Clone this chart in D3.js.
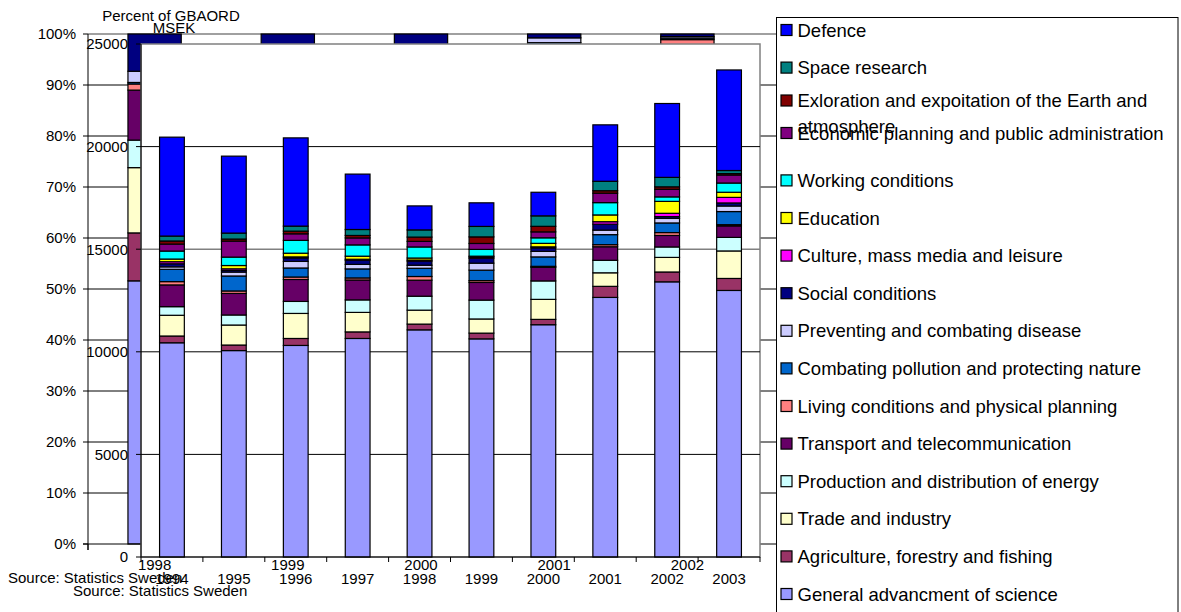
<!DOCTYPE html>
<html lang="en">
<head>
<meta charset="UTF-8">
<title>GBAORD by socio-economic objective</title>
<script src="https://d3js.org/d3.v7.min.js"></script>
<style>
  body { margin: 0; background: #fff; }
  svg { display: block; font-family: Arial, "Liberation Sans", sans-serif; }
</style>
</head>
<body>
<svg id="chart" width="1181" height="612"></svg>
<script>
// ---- front chart: MSEK per year, stacked bottom to top ----
const years = ["1994", "1995", "1996", "1997", "1998", "1999", "2000", "2001", "2002", "2003"];
const seriesNames = [
  "General advancment of science",
  "Agriculture, forestry and fishing",
  "Trade and industry",
  "Production and distribution of energy",
  "Transport and telecommunication",
  "Living conditions and physical planning",
  "Combating pollution and protecting nature",
  "Preventing and combating disease",
  "Social conditions",
  "Culture, mass media and leisure",
  "Education",
  "Working conditions",
  "Economic planning and public administration",
  "Exloration and expoitation of the Earth and atmosphere",
  "Space research",
  "Defence"
];
const seriesColors = [
  "#9999ff", "#993366", "#ffffcc", "#ccffff", "#660066", "#ff8080", "#0066cc", "#ccccff",
  "#000080", "#ff00ff", "#ffff00", "#00ffff", "#800080", "#800000", "#008080", "#0000ff"
];
const generalScience = [10440, 10060, 10310, 10650, 11070, 10630, 11320, 12650, 13410, 12990];
const agriculture    = [330, 270, 340, 320, 280, 280, 260, 540, 480, 585];
const tradeIndustry  = [1010, 975, 1220, 950, 680, 690, 975, 660, 710, 1340];
const energy         = [420, 490, 585, 610, 680, 920, 900, 610, 510, 660];
const transport      = [1060, 1050, 1070, 970, 780, 860, 660, 660, 560, 560];
const livingCond     = [160, 120, 120, 100, 180, 90, 50, 100, 140, 60];
const pollution      = [600, 730, 440, 440, 400, 510, 460, 490, 470, 640];
const disease        = [120, 190, 320, 220, 150, 340, 270, 220, 220, 270];
const socialCond     = [150, 80, 170, 200, 200, 240, 170, 290, 90, 150];
const culture        = [100, 80, 50, 50, 50, 60, 50, 120, 160, 270];
const education      = [130, 160, 180, 150, 100, 40, 170, 330, 580, 250];
const workingCond    = [390, 410, 625, 550, 540, 330, 270, 600, 220, 450];
const economicPlan   = [340, 780, 320, 340, 270, 290, 290, 460, 370, 390];
const exploration    = [150, 100, 130, 120, 210, 320, 270, 120, 120, 70];
const spaceResearch  = [240, 290, 245, 290, 350, 510, 510, 460, 460, 150];
const defence        = [4820, 3750, 4300, 2700, 1170, 1150, 1150, 2750, 3600, 4900];
const msekTicks = [0, 5000, 10000, 15000, 20000, 25000];

// ---- back chart: percent of GBAORD (only partly visible) ----
const pctYears = ["1998", "1999", "2000", "2001", "2002"];
const pctGeneral    = [51.6, 52.5, 53.0, 55.0, 57.0];
const pctAgri       = [9.4, 9.0, 9.2, 10.0, 10.0];
const pctTrade      = [12.8, 12.5, 12.0, 13.5, 13.0];
const pctEnergy     = [5.4, 5.8, 6.0, 6.5, 6.0];
const pctTransport  = [9.8, 9.5, 9.6, 10.5, 10.5];
const pctLiving     = [1.2, 1.3, 1.4, 1.5, 2.4];
const pctPollution  = [0.3, 0.8, 1.0, 1.3, 0.3];
const pctDisease    = [2.2, 2.1, 2.3, 0.95, 0.3];
const pctSocial     = [7.3, 6.5, 5.5, 0.75, 0.5];
const pctTicks = [0, 10, 20, 30, 40, 50, 60, 70, 80, 90, 100];

const frontSeries = [generalScience, agriculture, tradeIndustry, energy, transport, livingCond,
  pollution, disease, socialCond, culture, education, workingCond, economicPlan, exploration,
  spaceResearch, defence];
const backSeries = [pctGeneral, pctAgri, pctTrade, pctEnergy, pctTransport, pctLiving,
  pctPollution, pctDisease, pctSocial];

const svg = d3.select("#chart");
const FONT = 15;

// "MSEK" title sits behind the back chart's top edge
svg.append("text").attr("x", 174).attr("y", 33.3).attr("text-anchor", "middle")
  .attr("font-size", FONT).text("MSEK");

// ================= back chart =================
const bg = svg.append("g");
const xB = d3.scaleBand().domain(pctYears).range([88, 754]).paddingInner(0.6).paddingOuter(0.3);
const yB = d3.scaleLinear().domain([0, 100]).range([544, 34]);
const bgRight = 776;

// gridlines
bg.selectAll("line.grid").data(pctTicks.filter(t => t > 0 && t < 100)).enter().append("line")
  .attr("x1", 88).attr("x2", bgRight).attr("y1", d => yB(d)).attr("y2", d => yB(d))
  .attr("stroke", "#000").attr("stroke-width", 1);
bg.append("line").attr("x1", 88).attr("x2", bgRight).attr("y1", yB(100)).attr("y2", yB(100))
  .attr("stroke", "#808080").attr("stroke-width", 1.5);

const bgRows = pctYears.map((yr, i) => {
  const row = { year: yr };
  backSeries.forEach((arr, k) => row[k] = arr[i]);
  return row;
});
const bgStack = d3.stack().keys(d3.range(backSeries.length))(bgRows);
bg.selectAll("g.layer").data(bgStack).enter().append("g")
  .attr("fill", (d, k) => seriesColors[k])
  .selectAll("rect").data(d => d).enter().append("rect")
  .attr("x", d => xB(d.data.year)).attr("width", xB.bandwidth())
  .attr("y", d => yB(d[1])).attr("height", d => yB(d[0]) - yB(d[1]))
  .attr("stroke", "#000").attr("stroke-width", 1.2);

// axes
bg.append("line").attr("x1", 88).attr("x2", 88).attr("y1", 34).attr("y2", 550)
  .attr("stroke", "#000");
bg.append("line").attr("x1", 83).attr("x2", bgRight).attr("y1", yB(0)).attr("y2", yB(0))
  .attr("stroke", "#000");
bg.selectAll("line.ytick").data(pctTicks).enter().append("line")
  .attr("x1", 83).attr("x2", 88).attr("y1", d => yB(d)).attr("y2", d => yB(d))
  .attr("stroke", "#000");
bg.selectAll("text.ylab").data(pctTicks).enter().append("text")
  .attr("x", 76).attr("y", d => yB(d)).attr("dy", "0.36em").attr("text-anchor", "end")
  .attr("font-size", FONT).text(d => d + "%");
bg.selectAll("line.xtick").data(d3.range(pctYears.length + 1)).enter().append("line")
  .attr("x1", i => 88 + i * xB.step()).attr("x2", i => 88 + i * xB.step())
  .attr("y1", yB(0)).attr("y2", yB(0) + 6).attr("stroke", "#000");
bg.selectAll("text.xlab").data(pctYears).enter().append("text")
  .attr("x", d => xB(d) + xB.bandwidth() / 2).attr("y", 569.5).attr("text-anchor", "middle")
  .attr("font-size", FONT).text(d => d);
bg.append("text").attr("x", 171).attr("y", 20.7).attr("text-anchor", "middle")
  .attr("font-size", FONT).text("Percent of GBAORD");
bg.append("text").attr("x", 8).attr("y", 583).attr("font-size", FONT)
  .text("Source: Statistics Sweden");

// ================= front chart =================
const fg = svg.append("g");
const xF = d3.scaleBand().domain(years).range([141, 760]).paddingInner(0.6).paddingOuter(0.3);
const yF = d3.scaleLinear().domain([0, 25000]).range([557, 44]);

fg.append("rect").attr("x", 141).attr("y", yF(25000)).attr("width", 760 - 141)
  .attr("height", yF(0) - yF(25000)).attr("fill", "#fff")
  .attr("stroke", "#808080").attr("stroke-width", 1.5);

fg.selectAll("line.grid").data(msekTicks.filter(t => t > 0 && t < 25000)).enter().append("line")
  .attr("x1", 141).attr("x2", 760).attr("y1", d => yF(d)).attr("y2", d => yF(d))
  .attr("stroke", d => d === 15000 ? "#808080" : "#000")
  .attr("stroke-width", d => d === 15000 ? 1.5 : 1);

const rows = years.map((yr, i) => {
  const row = { year: yr };
  frontSeries.forEach((arr, k) => row[k] = arr[i]);
  return row;
});
const stack = d3.stack().keys(d3.range(frontSeries.length))(rows);
fg.selectAll("g.layer").data(stack).enter().append("g")
  .attr("fill", (d, k) => seriesColors[k])
  .selectAll("rect").data(d => d).enter().append("rect")
  .attr("x", d => xF(d.data.year)).attr("width", xF.bandwidth())
  .attr("y", d => yF(d[1])).attr("height", d => yF(d[0]) - yF(d[1]))
  .attr("stroke", "#000").attr("stroke-width", 1.2);

fg.append("line").attr("x1", 141).attr("x2", 141).attr("y1", 44).attr("y2", 557)
  .attr("stroke", "#000");
fg.append("line").attr("x1", 141).attr("x2", 760).attr("y1", 557).attr("y2", 557)
  .attr("stroke", "#000");
fg.selectAll("line.ytick").data(msekTicks).enter().append("line")
  .attr("x1", 136).attr("x2", 141).attr("y1", d => yF(d)).attr("y2", d => yF(d))
  .attr("stroke", "#000");
fg.selectAll("text.ylab").data(msekTicks).enter().append("text")
  .attr("x", 128).attr("y", d => yF(d)).attr("dy", "0.36em").attr("text-anchor", "end")
  .attr("font-size", FONT).text(d => d);
fg.selectAll("line.xtick").data(d3.range(years.length + 1)).enter().append("line")
  .attr("x1", i => 141 + i * xF.step()).attr("x2", i => 141 + i * xF.step())
  .attr("y1", 557).attr("y2", 562).attr("stroke", "#000");
fg.selectAll("text.xlab").data(years).enter().append("text")
  .attr("x", d => xF(d) + xF.bandwidth() / 2).attr("y", 583.5).attr("text-anchor", "middle")
  .attr("font-size", FONT).text(d => d);
fg.append("text").attr("x", 73).attr("y", 595.5).attr("font-size", FONT)
  .text("Source: Statistics Sweden");

// ================= legend =================
const legend = svg.append("g");
legend.append("rect").attr("x", 776.5).attr("y", 17.5).attr("width", 401.5).attr("height", 620)
  .attr("fill", "#fff").attr("stroke", "#000").attr("stroke-width", 1);

const legendOrder = d3.range(seriesNames.length).reverse();
// entry centres; the wrapped entry pushes its neighbours together
const entryY = i => i === 2 ? 100.5 : i === 3 ? 133 : 30 + i * 37.6;
const items = legend.selectAll("g.item").data(legendOrder).enter().append("g")
  .attr("transform", (k, i) => `translate(781,${entryY(i)})`);
items.append("rect").attr("x", 0).attr("y", -5.5).attr("width", 11).attr("height", 11)
  .attr("fill", k => seriesColors[k]).attr("stroke", "#000").attr("stroke-width", 1.2);
items.append("text").attr("x", 16.5).attr("y", 6.5).attr("font-size", 18.5)
  .each(function(k) {
    const t = d3.select(this);
    const name = seriesNames[k];
    if (name.startsWith("Exloration")) {
      t.append("tspan").attr("x", 16.5).text("Exloration and expoitation of the Earth and");
      t.append("tspan").attr("x", 16.5).attr("dy", 26).text("atmosphere");
    } else {
      t.text(name);
    }
  });
</script>
</body>
</html>
